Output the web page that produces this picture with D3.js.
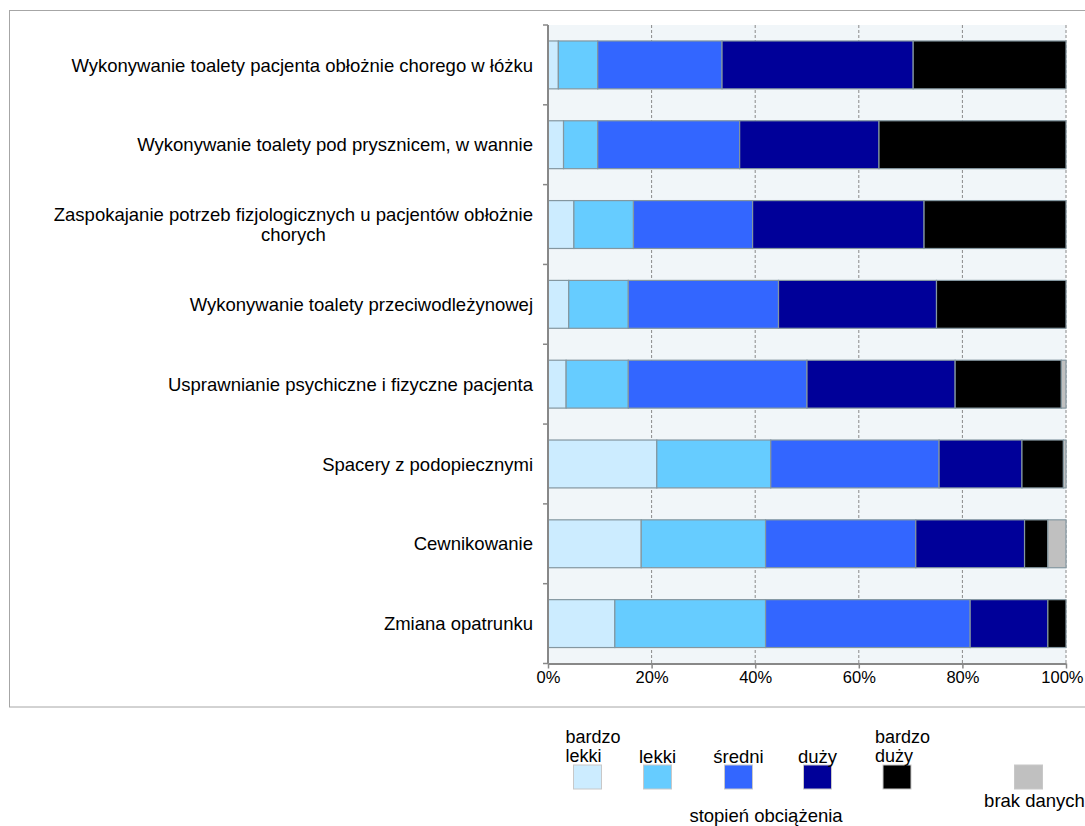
<!DOCTYPE html>
<html>
<head>
<meta charset="utf-8">
<script src="https://cdn.jsdelivr.net/npm/d3@7"></script>
<style>
  html, body { margin: 0; padding: 0; background: #fff; }
  svg { display: block; font-family: "Liberation Sans", Arial, sans-serif; }
</style>
</head>
<body>
<svg id="chart" width="1085" height="826"></svg>
<script>
// Activities (one horizontal bar each), top to bottom
const categories = [
  "Wykonywanie toalety pacjenta obłożnie chorego w łóżku",
  "Wykonywanie toalety pod prysznicem, w wannie",
  "Zaspokajanie potrzeb fizjologicznych u pacjentów obłożnie\nchorych",
  "Wykonywanie toalety przeciwodleżynowej",
  "Usprawnianie psychiczne i fizyczne pacjenta",
  "Spacery z podopiecznymi",
  "Cewnikowanie",
  "Zmiana opatrunku"
];

// Share of answers (%) per level of burden, in category order
const bardzoLekki = [2.0, 3.0, 5.0, 4.0, 3.5, 21.0, 18.0, 12.9];
const lekki       = [7.6, 6.6, 11.5, 11.5, 12.0, 22.0, 24.0, 29.1];
const sredni      = [24.0, 27.4, 23.0, 29.0, 34.5, 32.5, 29.0, 39.5];
const duzy        = [36.9, 26.9, 33.1, 30.5, 28.6, 16.0, 21.0, 15.0];
const bardzoDuzy  = [29.5, 36.1, 27.4, 25.0, 20.5, 8.0, 4.5, 3.5];
const brakDanych  = [0, 0, 0, 0, 0.9, 0.5, 3.5, 0];

const seriesKeys   = ["bardzoLekki", "lekki", "sredni", "duzy", "bardzoDuzy", "brakDanych"];
const seriesLabels = ["bardzo\nlekki", "lekki", "średni", "duży", "bardzo\nduży", "brak danych"];
const seriesColors = ["#CCECFF", "#66CCFF", "#3366FF", "#000099", "#000000", "#C0C0C0"];
const xTicks = [0, 20, 40, 60, 80, 100];

const seriesValues = { bardzoLekki, lekki, sredni, duzy, bardzoDuzy, brakDanych };
const table = categories.map((c, i) => {
  const row = { category: c };
  seriesKeys.forEach(k => row[k] = seriesValues[k][i]);
  return row;
});

const svg = d3.select("#chart");
const plot = { left: 548, right: 1066, top: 25, bottom: 663.5 };

// Outer chart frame
svg.append("rect")
  .attr("x", 9.5).attr("y", 10.5)
  .attr("width", 1100).attr("height", 696.5)
  .attr("fill", "none").attr("stroke", "#a6a6a6").attr("stroke-width", 1);

const x = d3.scaleLinear().domain([0, 100]).range([plot.left, plot.right]);
const y = d3.scaleBand().domain(categories).range([plot.top, plot.bottom])
  .paddingInner(0.4).paddingOuter(0.2);
const color = d3.scaleOrdinal().domain(seriesKeys).range(seriesColors);

// Plot background
svg.append("rect")
  .attr("x", plot.left).attr("y", plot.top)
  .attr("width", plot.right - plot.left).attr("height", plot.bottom - plot.top)
  .attr("fill", "#F1F6F9");

// Dashed vertical gridlines
svg.append("g").selectAll("line")
  .data(xTicks.filter(t => t > 0))
  .join("line")
  .attr("x1", d => x(d)).attr("x2", d => x(d))
  .attr("y1", plot.top).attr("y2", plot.bottom)
  .attr("stroke", "#8a8a8a").attr("stroke-width", 1)
  .attr("stroke-dasharray", "3,2");

// Stacked bars
const stacked = d3.stack().keys(seriesKeys)(table);
svg.append("g").selectAll("g")
  .data(stacked)
  .join("g")
  .attr("fill", d => color(d.key))
  .selectAll("rect")
  .data(d => d.filter(s => s[1] - s[0] > 0))
  .join("rect")
  .attr("x", d => x(d[0]))
  .attr("y", d => y(d.data.category))
  .attr("width", d => x(d[1]) - x(d[0]))
  .attr("height", y.bandwidth())
  .attr("stroke", "#8497a0").attr("stroke-width", 1.2);

// Bottom axis
const xAxis = svg.append("g")
  .attr("transform", `translate(0,${plot.bottom})`)
  .call(d3.axisBottom(x).tickValues(xTicks).tickFormat(d => d + "%").tickSize(5).tickSizeOuter(0));
xAxis.select(".domain").attr("stroke", "#888").attr("stroke-width", 2);
xAxis.selectAll(".tick line").attr("stroke", "#888").attr("stroke-width", 1.5);
xAxis.selectAll(".tick text")
  .attr("font-size", "16.5px").attr("fill", "#000")
  .attr("font-family", "Liberation Sans, Arial, sans-serif")
  .attr("y", 8).attr("dy", "0.71em");
// keep the last tick label inside the page edge
xAxis.selectAll(".tick text").filter(d => d === 100)
  .attr("text-anchor", "end").attr("x", 1083 - plot.right);

// Left axis: line with ticks at category boundaries
const boundaries = d3.range(categories.length + 1)
  .map(i => plot.top + i * (plot.bottom - plot.top) / categories.length);
const yAxis = svg.append("g");
yAxis.append("line")
  .attr("x1", plot.left).attr("x2", plot.left)
  .attr("y1", plot.top).attr("y2", plot.bottom)
  .attr("stroke", "#888").attr("stroke-width", 2);
yAxis.selectAll("line.tick")
  .data(boundaries)
  .join("line").attr("class", "tick")
  .attr("x1", plot.left - 5).attr("x2", plot.left)
  .attr("y1", d => d).attr("y2", d => d)
  .attr("stroke", "#888").attr("stroke-width", 1.5);

// Category labels (multi-line labels centred as a block, block right-aligned)
const labelRight = 533;
const lineH = 20;
categories.forEach(c => {
  const lines = c.split("\n");
  const cy = y(c) + y.bandwidth() / 2;
  const g = svg.append("g");
  const texts = lines.map((ln, i) => g.append("text")
    .attr("font-size", "18.5px").attr("fill", "#000")
    .attr("y", cy + 6.7 + (i - (lines.length - 1) / 2) * lineH)
    .text(ln));
  if (lines.length === 1) {
    texts[0].attr("x", labelRight).attr("text-anchor", "end");
  } else {
    const widths = texts.map(t => t.node().getComputedTextLength());
    const w = d3.max(widths);
    const cx = labelRight - w / 2;
    texts.forEach(t => t.attr("x", cx).attr("text-anchor", "middle"));
  }
});

// Legend
const legendX = [587.5, 657.5, 738.5, 817.5, 897, 1028.5];
const boxW = 28, boxH = 24, boxTop = 765;
const legend = svg.append("g");
seriesKeys.forEach((k, i) => {
  const cx = legendX[i];
  legend.append("rect")
    .attr("x", cx - boxW / 2).attr("y", boxTop)
    .attr("width", boxW).attr("height", boxH)
    .attr("fill", color(k)).attr("stroke", "#c8c8c8").attr("stroke-width", 1);
  const lines = seriesLabels[i].split("\n");
  if (k === "brakDanych") {
    legend.append("text").attr("x", cx + 6).attr("y", 807)
      .attr("text-anchor", "middle").attr("font-size", "18.5px").text(lines[0]);
  } else if (lines.length === 1) {
    legend.append("text").attr("x", cx).attr("y", 763)
      .attr("text-anchor", "middle").attr("font-size", "18.5px").text(lines[0]);
  } else {
    lines.forEach((ln, j) => legend.append("text")
      .attr("x", cx - 22).attr("y", 743 + j * 19)
      .attr("font-size", "18px").text(ln));
  }
});
legend.append("text")
  .attr("x", 766).attr("y", 822)
  .attr("text-anchor", "middle").attr("font-size", "18.5px")
  .text("stopień obciążenia");
</script>
</body>
</html>
